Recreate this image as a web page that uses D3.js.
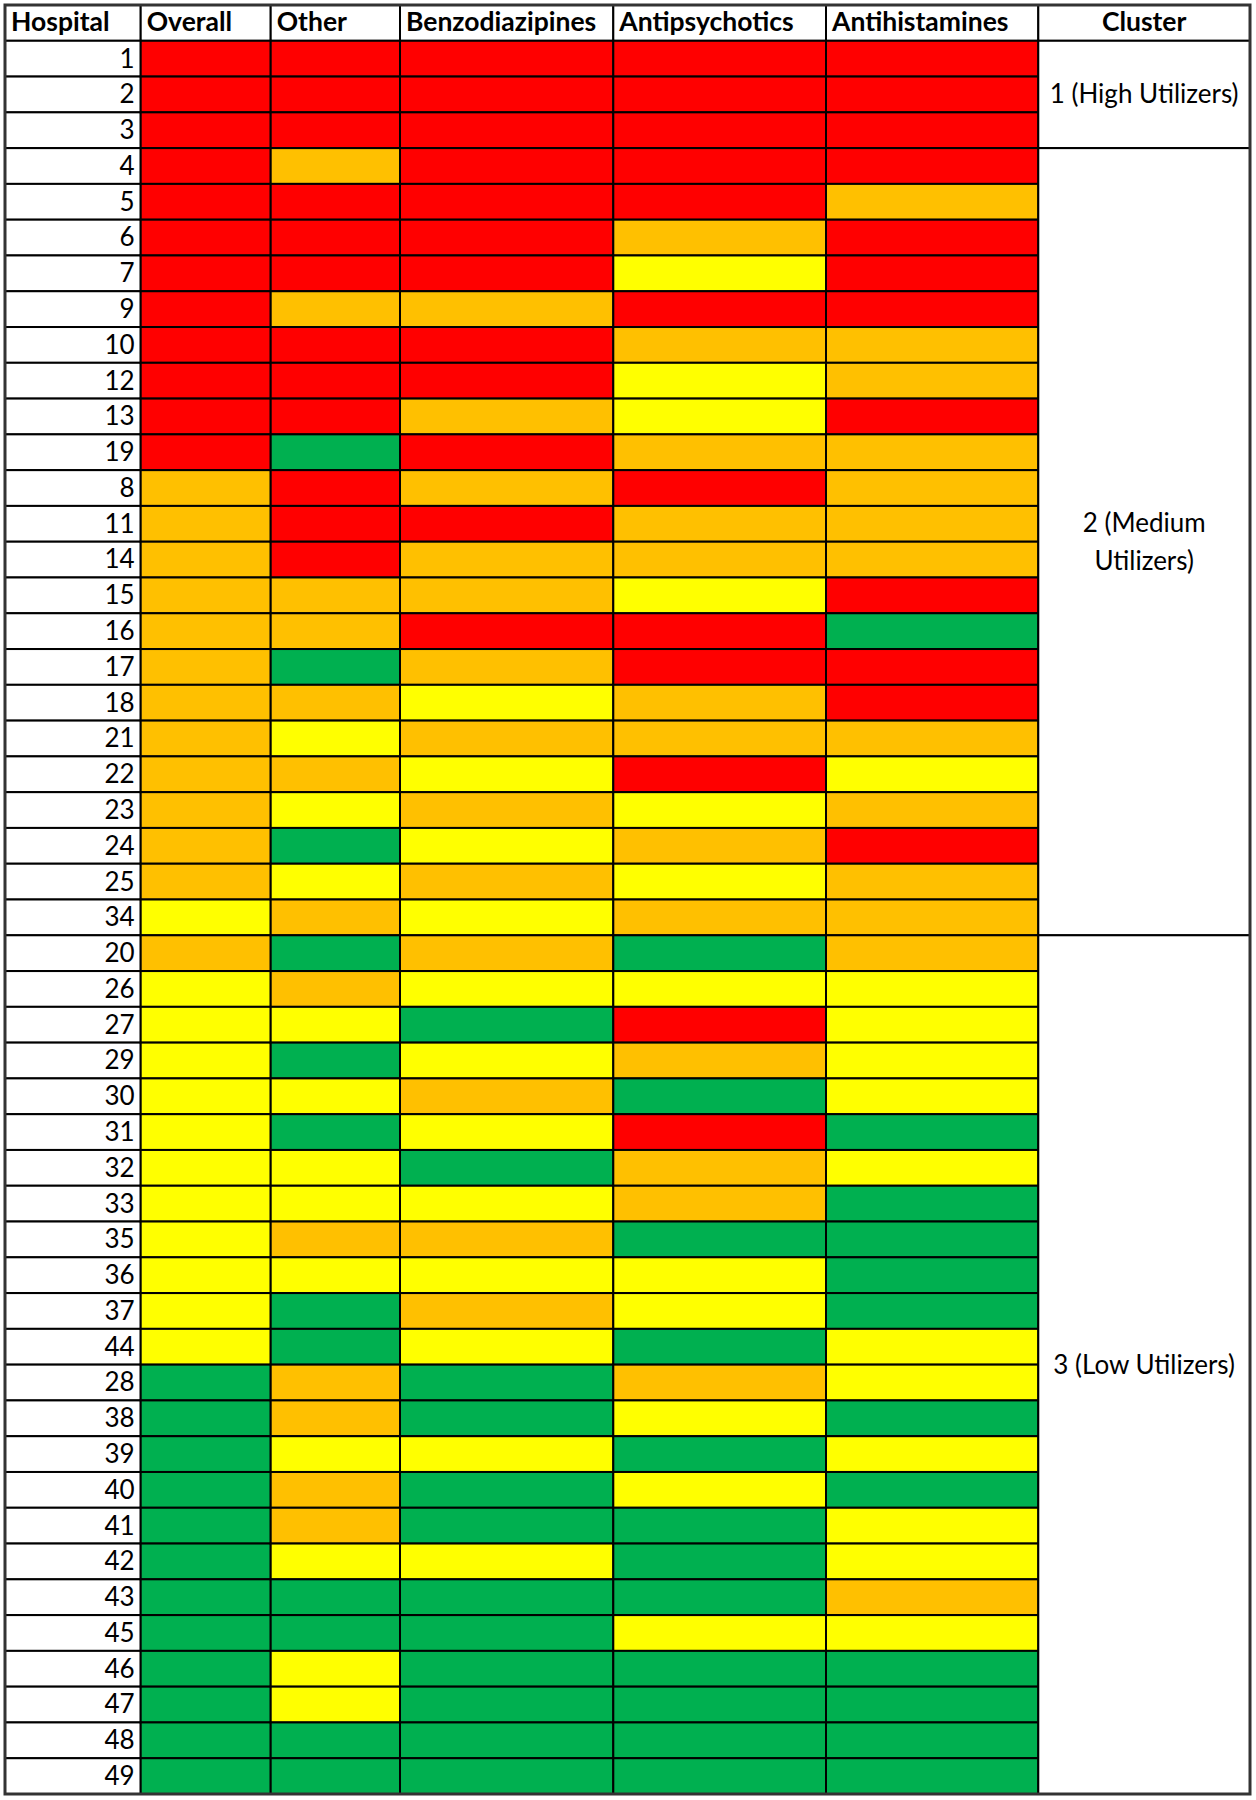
<!doctype html>
<html>
<head>
<meta charset="utf-8">
<script src="https://d3js.org/d3.v7.min.js"></script>
<style>
body { margin: 0; background: #fff; }
svg text { font-family: Lato, "Open Sans", sans-serif; fill: #000; }
</style>
</head>
<body>
<svg id="chart" width="1256" height="1800"></svg>
<script>
// columns of the table
var columns = ["Hospital", "Overall", "Other", "Benzodiazipines", "Antipsychotics", "Antihistamines", "Cluster"];

// hospital ids in table order
var hospitals = [1, 2, 3, 4, 5, 6, 7, 9, 10, 12, 13, 19, 8, 11, 14, 15, 16, 17, 18, 21, 22, 23, 24, 25, 34,
                 20, 26, 27, 29, 30, 31, 32, 33, 35, 36, 37, 44, 28, 38, 39, 40, 41, 42, 43, 45, 46, 47, 48, 49];

// utilization level per hospital, same order as hospitals
// R = red, O = orange, Y = yellow, G = green
function levels(s) { return s.trim().split(/\s+/); }
var overall = levels(
    "R R R R R  R R R R R  R R O O O  O O O O O  O O O O Y " +
    "O Y Y Y Y  Y Y Y Y Y  Y Y G G G  G G G G G  G G G G");
var other = levels(
    "R R R O R  R R O R R  R G R R R  O O G O Y  O Y G Y O " +
    "G O Y G Y  G Y Y O Y  G G O O Y  O O Y G G  Y Y G G");
var benzodiazipines = levels(
    "R R R R R  R R O R R  O R O R O  O R O Y O  Y O Y O Y " +
    "O Y G Y O  Y G Y O Y  O Y G G Y  G G Y G G  G G G G");
var antipsychotics = levels(
    "R R R R R  O Y R O Y  Y O R O O  Y R R O O  R Y O Y O " +
    "G Y R O G  R O O G Y  Y G O Y G  Y G G G Y  G G G G");
var antihistamines = levels(
    "R R R R O  R R R O O  R O O O O  R G R R O  Y O R O O " +
    "O Y Y Y Y  G Y G G G  G Y Y G Y  G Y Y O Y  G G G G");

var clusterNames = [["1 (High Utilizers)"], ["2 (Medium", "Utilizers)"], ["3 (Low Utilizers)"]];
var clusterSizes = [3, 22, 24];

var levelColor = d3.scaleOrdinal()
    .domain(["R", "O", "Y", "G"])
    .range(["#ff0000", "#ffc000", "#ffff00", "#00b050"]);

var svg = d3.select("#chart");

// column edges (px) of the spreadsheet layout
var colEdges = [5, 140.7, 270.7, 400, 613.3, 826, 1038.3, 1250];
var x = d3.scaleOrdinal().domain(columns).range(colEdges.slice(0, -1));
var w = d3.scaleOrdinal().domain(columns).range(d3.pairs(colEdges).map(function(p) { return p[1] - p[0]; }));

var rowKeys = ["header"].concat(hospitals.map(String));
var y = d3.scaleBand().domain(rowKeys).range([5, 1794]);

svg.append("rect").attr("width", 1256).attr("height", 1800).attr("fill", "#fff");

// header row
var head = svg.append("g");
head.selectAll("rect")
    .data(columns)
    .join("rect")
    .attr("x", function(d) { return x(d); })
    .attr("y", y("header"))
    .attr("width", function(d) { return w(d); })
    .attr("height", y.bandwidth())
    .attr("fill", "#fff")
    .attr("stroke", "#000")
    .attr("stroke-width", 2);
head.selectAll("text")
    .data(columns)
    .join("text")
    .attr("x", function(d) { return d == "Cluster" ? x(d) + w(d) / 2 : x(d) + 6; })
    .attr("y", y("header") + y.bandwidth() - 10)
    .attr("text-anchor", function(d) { return d == "Cluster" ? "middle" : "start"; })
    .style("font-size", "26.5px")
    .style("font-weight", "bold")
    .text(function(d) { return d; });

// hospital id column
var idCells = svg.append("g");
idCells.selectAll("rect")
    .data(hospitals)
    .join("rect")
    .attr("x", x("Hospital"))
    .attr("y", function(d) { return y(String(d)); })
    .attr("width", w("Hospital"))
    .attr("height", y.bandwidth())
    .attr("fill", "#fff")
    .attr("stroke", "#000")
    .attr("stroke-width", 2);
idCells.selectAll("text")
    .data(hospitals)
    .join("text")
    .attr("x", x("Hospital") + w("Hospital") - 6)
    .attr("y", function(d) { return y(String(d)) + y.bandwidth() - 9; })
    .attr("text-anchor", "end")
    .style("font-size", "26px")
    .text(function(d) { return d; });

// coloured cells
var series = [
    ["Overall", overall],
    ["Other", other],
    ["Benzodiazipines", benzodiazipines],
    ["Antipsychotics", antipsychotics],
    ["Antihistamines", antihistamines]
];
series.forEach(function(s) {
    svg.append("g").selectAll("rect")
        .data(s[1])
        .join("rect")
        .attr("x", x(s[0]))
        .attr("y", function(d, i) { return y(String(hospitals[i])); })
        .attr("width", w(s[0]))
        .attr("height", y.bandwidth())
        .attr("fill", function(d) { return levelColor(d); })
        .attr("stroke", "#000")
        .attr("stroke-width", 2);
});

// cluster column (merged cells)
var start = 0;
clusterSizes.forEach(function(n, k) {
    var top = y(String(hospitals[start]));
    var bottom = y(String(hospitals[start + n - 1])) + y.bandwidth();
    svg.append("rect")
        .attr("x", x("Cluster"))
        .attr("y", top)
        .attr("width", w("Cluster"))
        .attr("height", bottom - top)
        .attr("fill", "#fff")
        .attr("stroke", "#000")
        .attr("stroke-width", 2);
    var lines = clusterNames[k];
    var mid = (top + bottom) / 2;
    svg.append("text")
        .attr("text-anchor", "middle")
        .style("font-size", "26px")
        .selectAll("tspan")
        .data(lines)
        .join("tspan")
        .attr("x", x("Cluster") + w("Cluster") / 2)
        .attr("y", function(d, i) { return mid + 9 + (i - (lines.length - 1) / 2) * 38; })
        .text(function(d) { return d; });
    start += n;
});

// outer frame
svg.append("rect")
    .attr("x", 5).attr("y", 5)
    .attr("width", 1245).attr("height", 1789)
    .attr("fill", "none")
    .attr("stroke", "#333")
    .attr("stroke-width", 3);
</script>
</body>
</html>
